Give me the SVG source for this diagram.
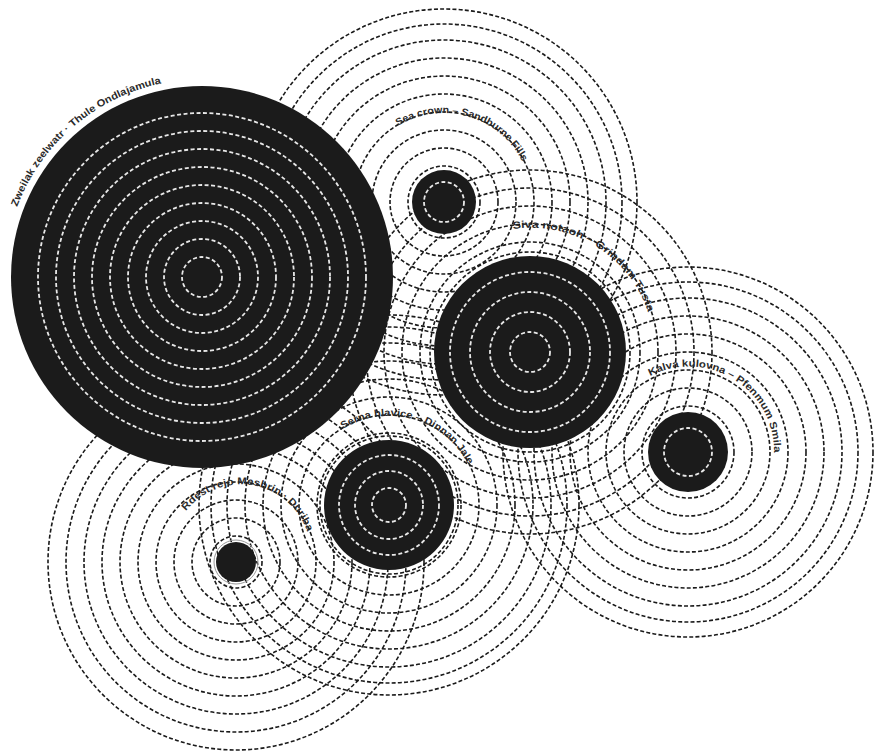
<svg xmlns="http://www.w3.org/2000/svg" width="875" height="756" viewBox="0 0 875 756">
<style>
.r{fill:none;stroke:#1a1a1a;stroke-width:1.6;stroke-dasharray:4 2.2}
.w{fill:none;stroke:#e8e8e8;stroke-width:1.8;stroke-dasharray:4 2.5}
.d{fill:#1b1b1b}
.t{font-family:"Liberation Sans",Arial,sans-serif;font-size:10px;font-weight:bold;fill:#2a2a2a}
</style>
<defs>
<path id="p1" d="M 17 207 A 198 198 0 0 1 175 81"/>
<path id="p2" d="M 398 126 A 88 88 0 0 1 524 165"/>
<path id="p3" d="M 513 229 A 124 124 0 0 1 650 318"/>
<path id="p4" d="M 650 376 A 85 85 0 0 1 772 470"/>
<path id="p5" d="M 343 429 A 88 88 0 0 1 470 469"/>
<path id="p6" d="M 186 511 A 70 70 0 0 1 296 598"/>
</defs>
<rect width="875" height="756" fill="#fff"/>
<g id="connectors">
<g id="rings2">
<circle class="r" cx="444" cy="202" r="54"/><circle class="r" cx="444" cy="202" r="72"/><circle class="r" cx="444" cy="202" r="90"/><circle class="r" cx="444" cy="202" r="108"/><circle class="r" cx="444" cy="202" r="126"/><circle class="r" cx="444" cy="202" r="144"/><circle class="r" cx="444" cy="202" r="162"/><circle class="r" cx="444" cy="202" r="178"/><circle class="r" cx="444" cy="202" r="193"/>
</g>
<g id="rings3">
<circle class="r" cx="530" cy="352" r="110"/><circle class="r" cx="530" cy="352" r="128"/><circle class="r" cx="530" cy="352" r="146"/><circle class="r" cx="530" cy="352" r="164"/><circle class="r" cx="530" cy="352" r="182"/>
</g>
<g id="rings4">
<circle class="r" cx="688" cy="452" r="46"/><circle class="r" cx="688" cy="452" r="64"/><circle class="r" cx="688" cy="452" r="82"/><circle class="r" cx="688" cy="452" r="100"/><circle class="r" cx="688" cy="452" r="118"/><circle class="r" cx="688" cy="452" r="136"/><circle class="r" cx="688" cy="452" r="154"/><circle class="r" cx="688" cy="452" r="170"/><circle class="r" cx="688" cy="452" r="185"/>
</g>
<g id="rings5">
<circle class="r" cx="389" cy="505" r="72"/><circle class="r" cx="389" cy="505" r="90"/><circle class="r" cx="389" cy="505" r="108"/><circle class="r" cx="389" cy="505" r="126"/><circle class="r" cx="389" cy="505" r="144"/><circle class="r" cx="389" cy="505" r="162"/><circle class="r" cx="389" cy="505" r="178"/><circle class="r" cx="389" cy="505" r="190"/>
</g>
<g id="rings6">
<circle class="r" cx="236" cy="562" r="26"/><circle class="r" cx="236" cy="562" r="44"/><circle class="r" cx="236" cy="562" r="62"/><circle class="r" cx="236" cy="562" r="80"/><circle class="r" cx="236" cy="562" r="98"/><circle class="r" cx="236" cy="562" r="116"/><circle class="r" cx="236" cy="562" r="134"/><circle class="r" cx="236" cy="562" r="152"/><circle class="r" cx="236" cy="562" r="170"/><circle class="r" cx="236" cy="562" r="188"/>
</g>
</g>
<g id="node1">
<circle class="d" cx="202" cy="277" r="191"/>
<circle class="w" cx="202" cy="277" r="20"/><circle class="w" cx="202" cy="277" r="38"/><circle class="w" cx="202" cy="277" r="56"/><circle class="w" cx="202" cy="277" r="74"/><circle class="w" cx="202" cy="277" r="92"/><circle class="w" cx="202" cy="277" r="110"/><circle class="w" cx="202" cy="277" r="128"/><circle class="w" cx="202" cy="277" r="146"/><circle class="w" cx="202" cy="277" r="164"/>
<text class="t"><textPath href="#p1" textLength="198" lengthAdjust="spacingAndGlyphs">Zweilak zeelwatr · Thule Ondlajamula</textPath></text>
</g>
<g id="node2">
<circle class="r" cx="444" cy="202" r="36"/>
<circle class="d" cx="444" cy="202" r="32"/>
<circle class="w" cx="444" cy="202" r="20"/>
<text class="t"><textPath href="#p2" textLength="145" lengthAdjust="spacingAndGlyphs">Sea crown – Sandburne Fills</textPath></text>
</g>
<g id="node3">
<circle class="r" cx="530" cy="352" r="100"/>
<circle class="d" cx="530" cy="352" r="96"/>
<circle class="w" cx="530" cy="352" r="20"/><circle class="w" cx="530" cy="352" r="40"/><circle class="w" cx="530" cy="352" r="60"/><circle class="w" cx="530" cy="352" r="80"/>
<text class="t"><textPath href="#p3" textLength="172" lengthAdjust="spacingAndGlyphs">Siva notaoh – Grindam Tusta</textPath></text>
</g>
<g id="node4">
<circle class="d" cx="688" cy="452" r="40"/>
<circle class="w" cx="688" cy="452" r="24"/>
<text class="t"><textPath href="#p4" textLength="175" lengthAdjust="spacingAndGlyphs">Kalva kulovna – Pfenmum Smila</textPath></text>
</g>
<g id="node5">
<circle class="r" cx="389" cy="505" r="69"/>
<circle class="d" cx="389" cy="505" r="65"/>
<circle class="w" cx="389" cy="505" r="17"/><circle class="w" cx="389" cy="505" r="34"/><circle class="w" cx="389" cy="505" r="50"/>
<text class="t"><textPath href="#p5" textLength="146" lengthAdjust="spacingAndGlyphs">Serna hlavice – Dinnan Jale</textPath></text>
</g>
<g id="node6">
<circle class="d" cx="236" cy="562" r="20"/>
<circle cx="236" cy="562" r="22" fill="none" stroke="#999" stroke-width="1"/>
<text class="t"><textPath href="#p6" textLength="150" lengthAdjust="spacingAndGlyphs">Rdest rejo Mesbrin · Duriba</textPath></text>
</g>
</svg>
